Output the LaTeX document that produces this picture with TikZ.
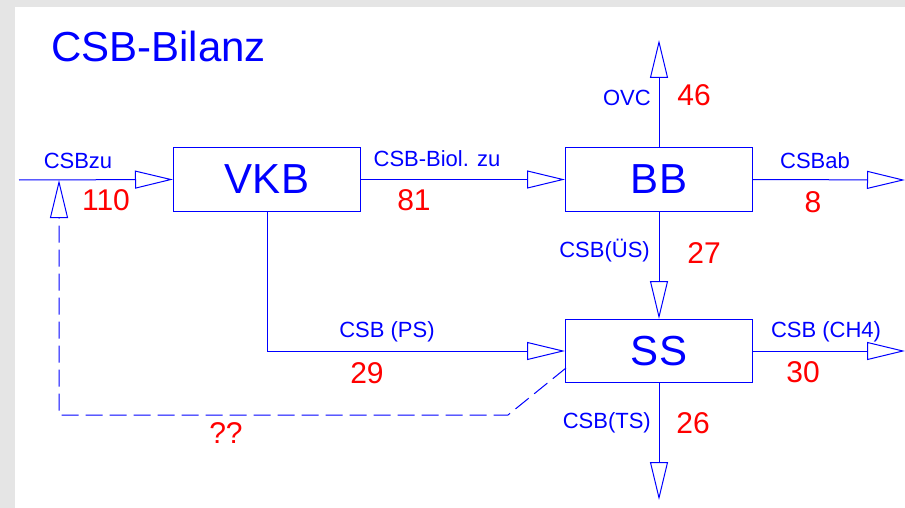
\documentclass[tikz,border=0pt]{standalone}
\usepackage{fontspec}
\setmainfont{Liberation Sans}
\usetikzlibrary{arrows.meta}
\definecolor{bgray}{RGB}{229,229,229}
\definecolor{lblue}{RGB}{0,0,255}
\definecolor{lred}{RGB}{255,0,0}
\begin{document}
\begin{tikzpicture}[x=1pt,y=-1pt,
  box/.style={draw=lblue,line width=1pt,rectangle,inner sep=0pt,minimum width=187pt,minimum height=63pt,text=lblue,font=\fontsize{42}{48}\selectfont},
  flow/.style={draw=lblue,line width=1pt,-{Triangle[length=38pt,width=18pt,fill=white]}},
  lab/.style={anchor=base,text=lblue,inner sep=0pt,font=\fontsize{22}{26}\selectfont},
  num/.style={anchor=base,text=lred,inner sep=0pt,font=\fontsize{30}{36}\selectfont}]
\fill[bgray] (0,0) rectangle (905,508);
\fill[white] (15,7) rectangle (905,508);
\useasboundingbox (0,0) rectangle (905,508);
\node[anchor=base west,text=lblue,inner sep=0pt,font=\fontsize{42}{48}\selectfont] (title) at (51,62) {CSB-Bilanz};
\node[box] (VKB) at (267,179.5) {VKB};
\node[box] (BB) at (659,179.5) {BB};
\node[box] (SS) at (659,351) {SS};
\coordinate (in) at (19,180);
\coordinate (fb) at (59,180);
\coordinate (ovc) at (659,40);
\coordinate (ab) at (905,180);
\coordinate (ch4) at (905,351);
\coordinate (ts) at (659,500);
\coordinate (dstart) at (566,368);
\coordinate (d1) at (508,415);
\coordinate (d2) at (59,415);
\draw[flow] (in) -- (VKB.west);
\draw[flow] (VKB.east) -- (BB.west);
\draw[flow] (BB.north) -- (ovc);
\draw[flow] (BB.east) -- (ab);
\draw[flow] (BB.south) -- (SS.north);
\draw[flow] (VKB.south) |- (SS.west);
\draw[flow] (SS.east) -- (ch4);
\draw[flow] (SS.south) -- (ts);
\draw[flow,dash pattern=on 17pt off 7pt] (dstart) -- (d1) -- (d2) -- (fb);
\node[lab] (l1) at (78,168) {CSBzu};
\node[num] (n1) at (106,210) {110};
\node[lab] (l2) at (437,167) {CSB-Biol. zu};
\node[num] (n2) at (414,210) {81};
\node[lab,anchor=base east] (l3) at (651,106) {OVC};
\node[num] (n3) at (694,106) {46};
\node[lab] (l4) at (815,168) {CSBab};
\node[num] (n4) at (813,212) {8};
\node[lab,anchor=base east] (l5) at (650,257) {CSB(ÜS)};
\node[num] (n5) at (704,263) {27};
\node[lab] (l6) at (387,337) {CSB (PS)};
\node[num] (n6) at (367,383) {29};
\node[lab] (l7) at (826,337) {CSB (CH4)};
\node[num] (n7) at (803,382) {30};
\node[lab,anchor=base east] (l8) at (651,428) {CSB(TS)};
\node[num] (n8) at (693,433) {26};
\node[num] (n9) at (226,443) {??};
\end{tikzpicture}
\end{document}
